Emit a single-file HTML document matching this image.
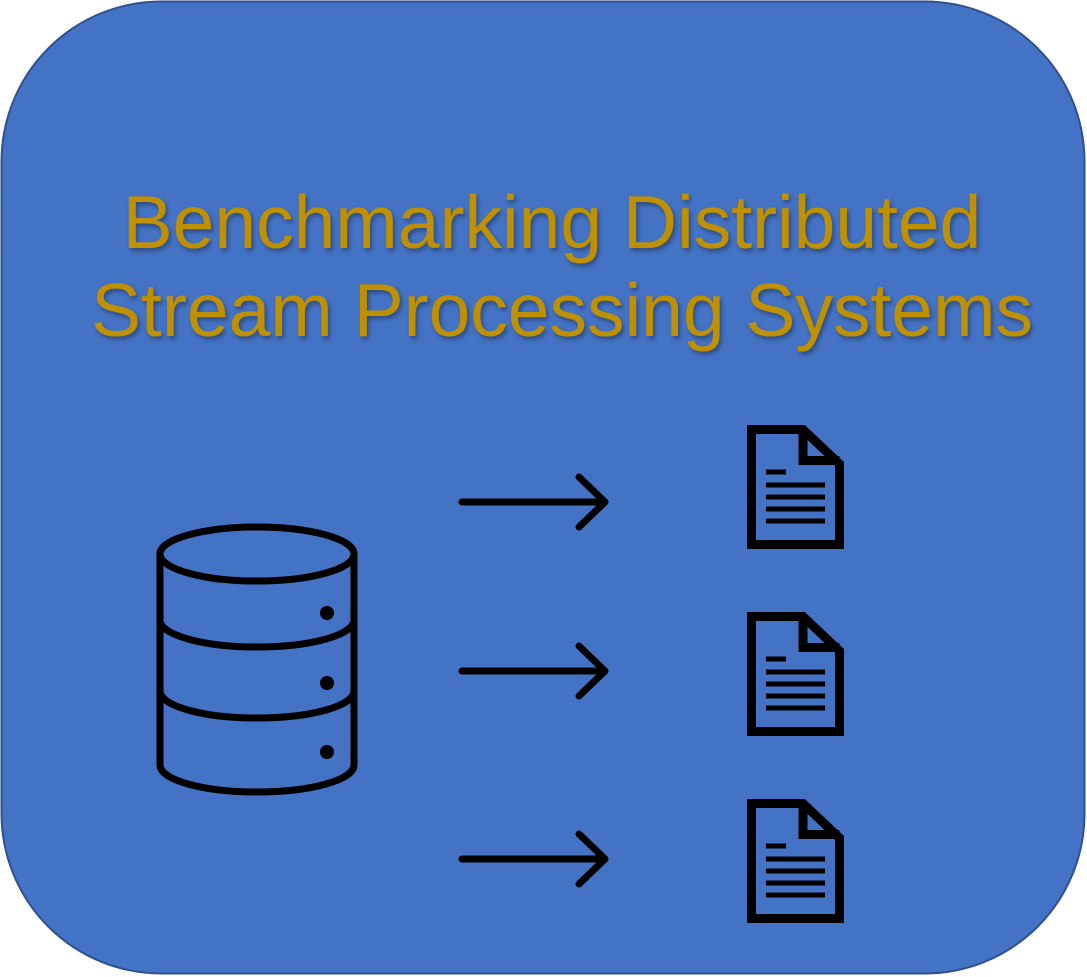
<!DOCTYPE html>
<html><head><style>
html,body{margin:0;padding:0;background:#fff;}
svg{display:block;}
</style></head><body>
<svg width="1087" height="977" viewBox="0 0 1087 977" xmlns="http://www.w3.org/2000/svg">
<defs><filter id="sh" x="-5%" y="-5%" width="110%" height="120%"><feDropShadow dx="2" dy="3" stdDeviation="2" flood-color="#000" flood-opacity="0.35"/></filter></defs>
<rect x="1.5" y="1.5" width="1083" height="972" rx="160" ry="160" fill="#4472C4" stroke="#2F528F" stroke-width="2"/>
<g font-family="Liberation Sans, sans-serif" font-size="75" fill="#BF9000" text-anchor="middle" filter="url(#sh)">
<text x="552" y="248">Benchmarking Distributed</text>
<text x="562" y="336">Stream Processing Systems</text>
</g>
<g fill="none" stroke="#000" stroke-width="7" stroke-linecap="round" stroke-linejoin="round">
<ellipse cx="257" cy="554" rx="97" ry="27"/>
<path d="M160 554 V765 A97 27 0 0 0 354 765 V554"/>
<path d="M160 620 A97 27 0 0 0 354 620"/>
<path d="M160 691 A97 27 0 0 0 354 691"/>
<path d="M462 502 H605 M579 477 L605 502 L579 527"/>
<path d="M462 671 H605 M579 646 L605 671 L579 696"/>
<path d="M462 859 H605 M579 834 L605 859 L579 884"/>
</g>
<g fill="#000"><circle cx="327" cy="613" r="7"/><circle cx="327" cy="683" r="7"/><circle cx="327" cy="752" r="7"/></g>
<g id="doc">
<path d="M751.5 429.5 H803 L839.5 464 V544.5 H751.5 Z" fill="none" stroke="#000" stroke-width="9" stroke-linejoin="miter"/>
<path d="M803 429.5 V460.5 H839.5" fill="none" stroke="#000" stroke-width="9"/>
<g stroke="#000" stroke-width="5"><path d="M766 472 H786 M766 485 H825 M766 497 H825 M766 509 H825 M766 521 H825"/></g>
</g>
<use href="#doc" y="187"/>
<use href="#doc" y="374"/>
</svg>
</body></html>
